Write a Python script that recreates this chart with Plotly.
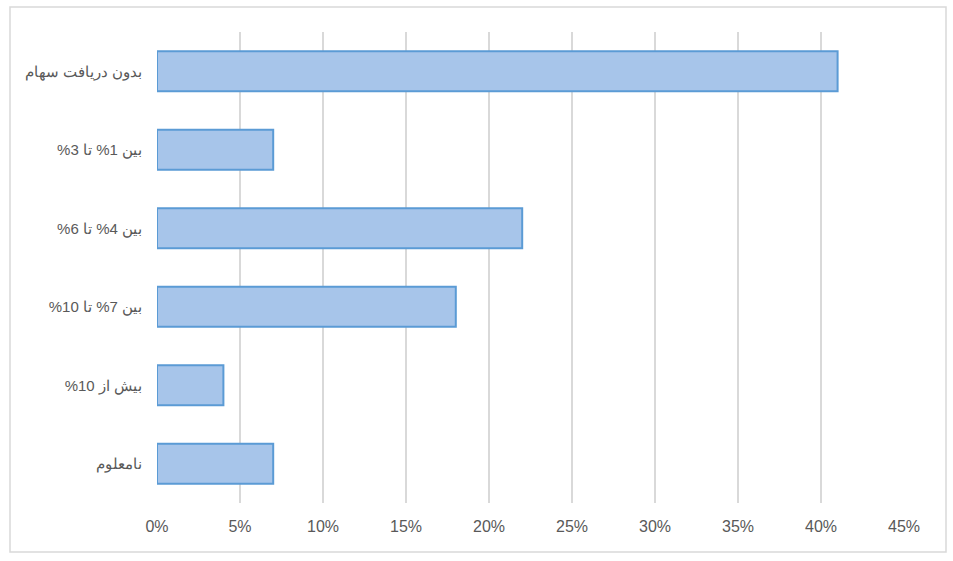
import plotly.graph_objects as go

# دسته‌ها از بالا به پایین
categories = [
    "بدون دریافت سهام",
    "بین 1% تا 3%",
    "بین 4% تا 6%",
    "بین 7% تا 10%",
    "بیش از 10%",
    "نامعلوم",
]
values = [0.41, 0.07, 0.22, 0.18, 0.04, 0.07]
x_ticks = [0, 0.05, 0.10, 0.15, 0.20, 0.25, 0.30, 0.35, 0.40, 0.45]

COLOR_BAR = "#a7c5ea"
COLOR_BORDE = "#5b9bd5"
COLOR_GRILLA = "#d9d9d9"
COLOR_TEXTO = "#595959"

# embedding راست‌به‌چپ تا درصدها مثل Excel نمایش داده شوند
RLE, PDF = "\u202b", "\u202c"
etiquetas = [RLE + c + PDF for c in categories]

fig = go.Figure()

fig.add_trace(go.Bar(
    y=etiquetas,
    x=values,
    orientation="h",
    marker=dict(color=COLOR_BAR, line=dict(color=COLOR_BORDE, width=2)),
    hoverinfo="x+y",
))

fig.update_layout(
    width=953,
    height=561,
    margin=dict(l=157, r=49, t=32, b=58),
    paper_bgcolor="white",
    plot_bgcolor="white",
    bargap=0.49,
    showlegend=False,
    font=dict(family="Liberation Sans, Arial", color=COLOR_TEXTO),
    xaxis=dict(
        range=[0, 0.45],
        tickvals=x_ticks,
        tickformat=".0%",
        showgrid=True,
        gridcolor=COLOR_GRILLA,
        gridwidth=1.5,
        zeroline=False,
        showline=False,
        tickfont=dict(size=16, color=COLOR_TEXTO),
        ticklabelstandoff=12,
    ),
    yaxis=dict(
        autorange="reversed",
        showgrid=False,
        zeroline=False,
        showline=False,
        tickfont=dict(size=15, color=COLOR_TEXTO),
        ticklabelstandoff=14,
    ),
)

# marco exterior del gráfico
fig.add_shape(
    type="rect", xref="paper", yref="paper",
    x0=(10 - 157) / 747, x1=(946 - 157) / 747,
    y0=(503 - 552) / 471, y1=(503 - 7) / 471,
    line=dict(color=COLOR_GRILLA, width=1.5),
    layer="below",
)

fig.write_html(
    "out.html",
    config={"displayModeBar": False},
    post_script="document.body.style.margin='0';",
)
